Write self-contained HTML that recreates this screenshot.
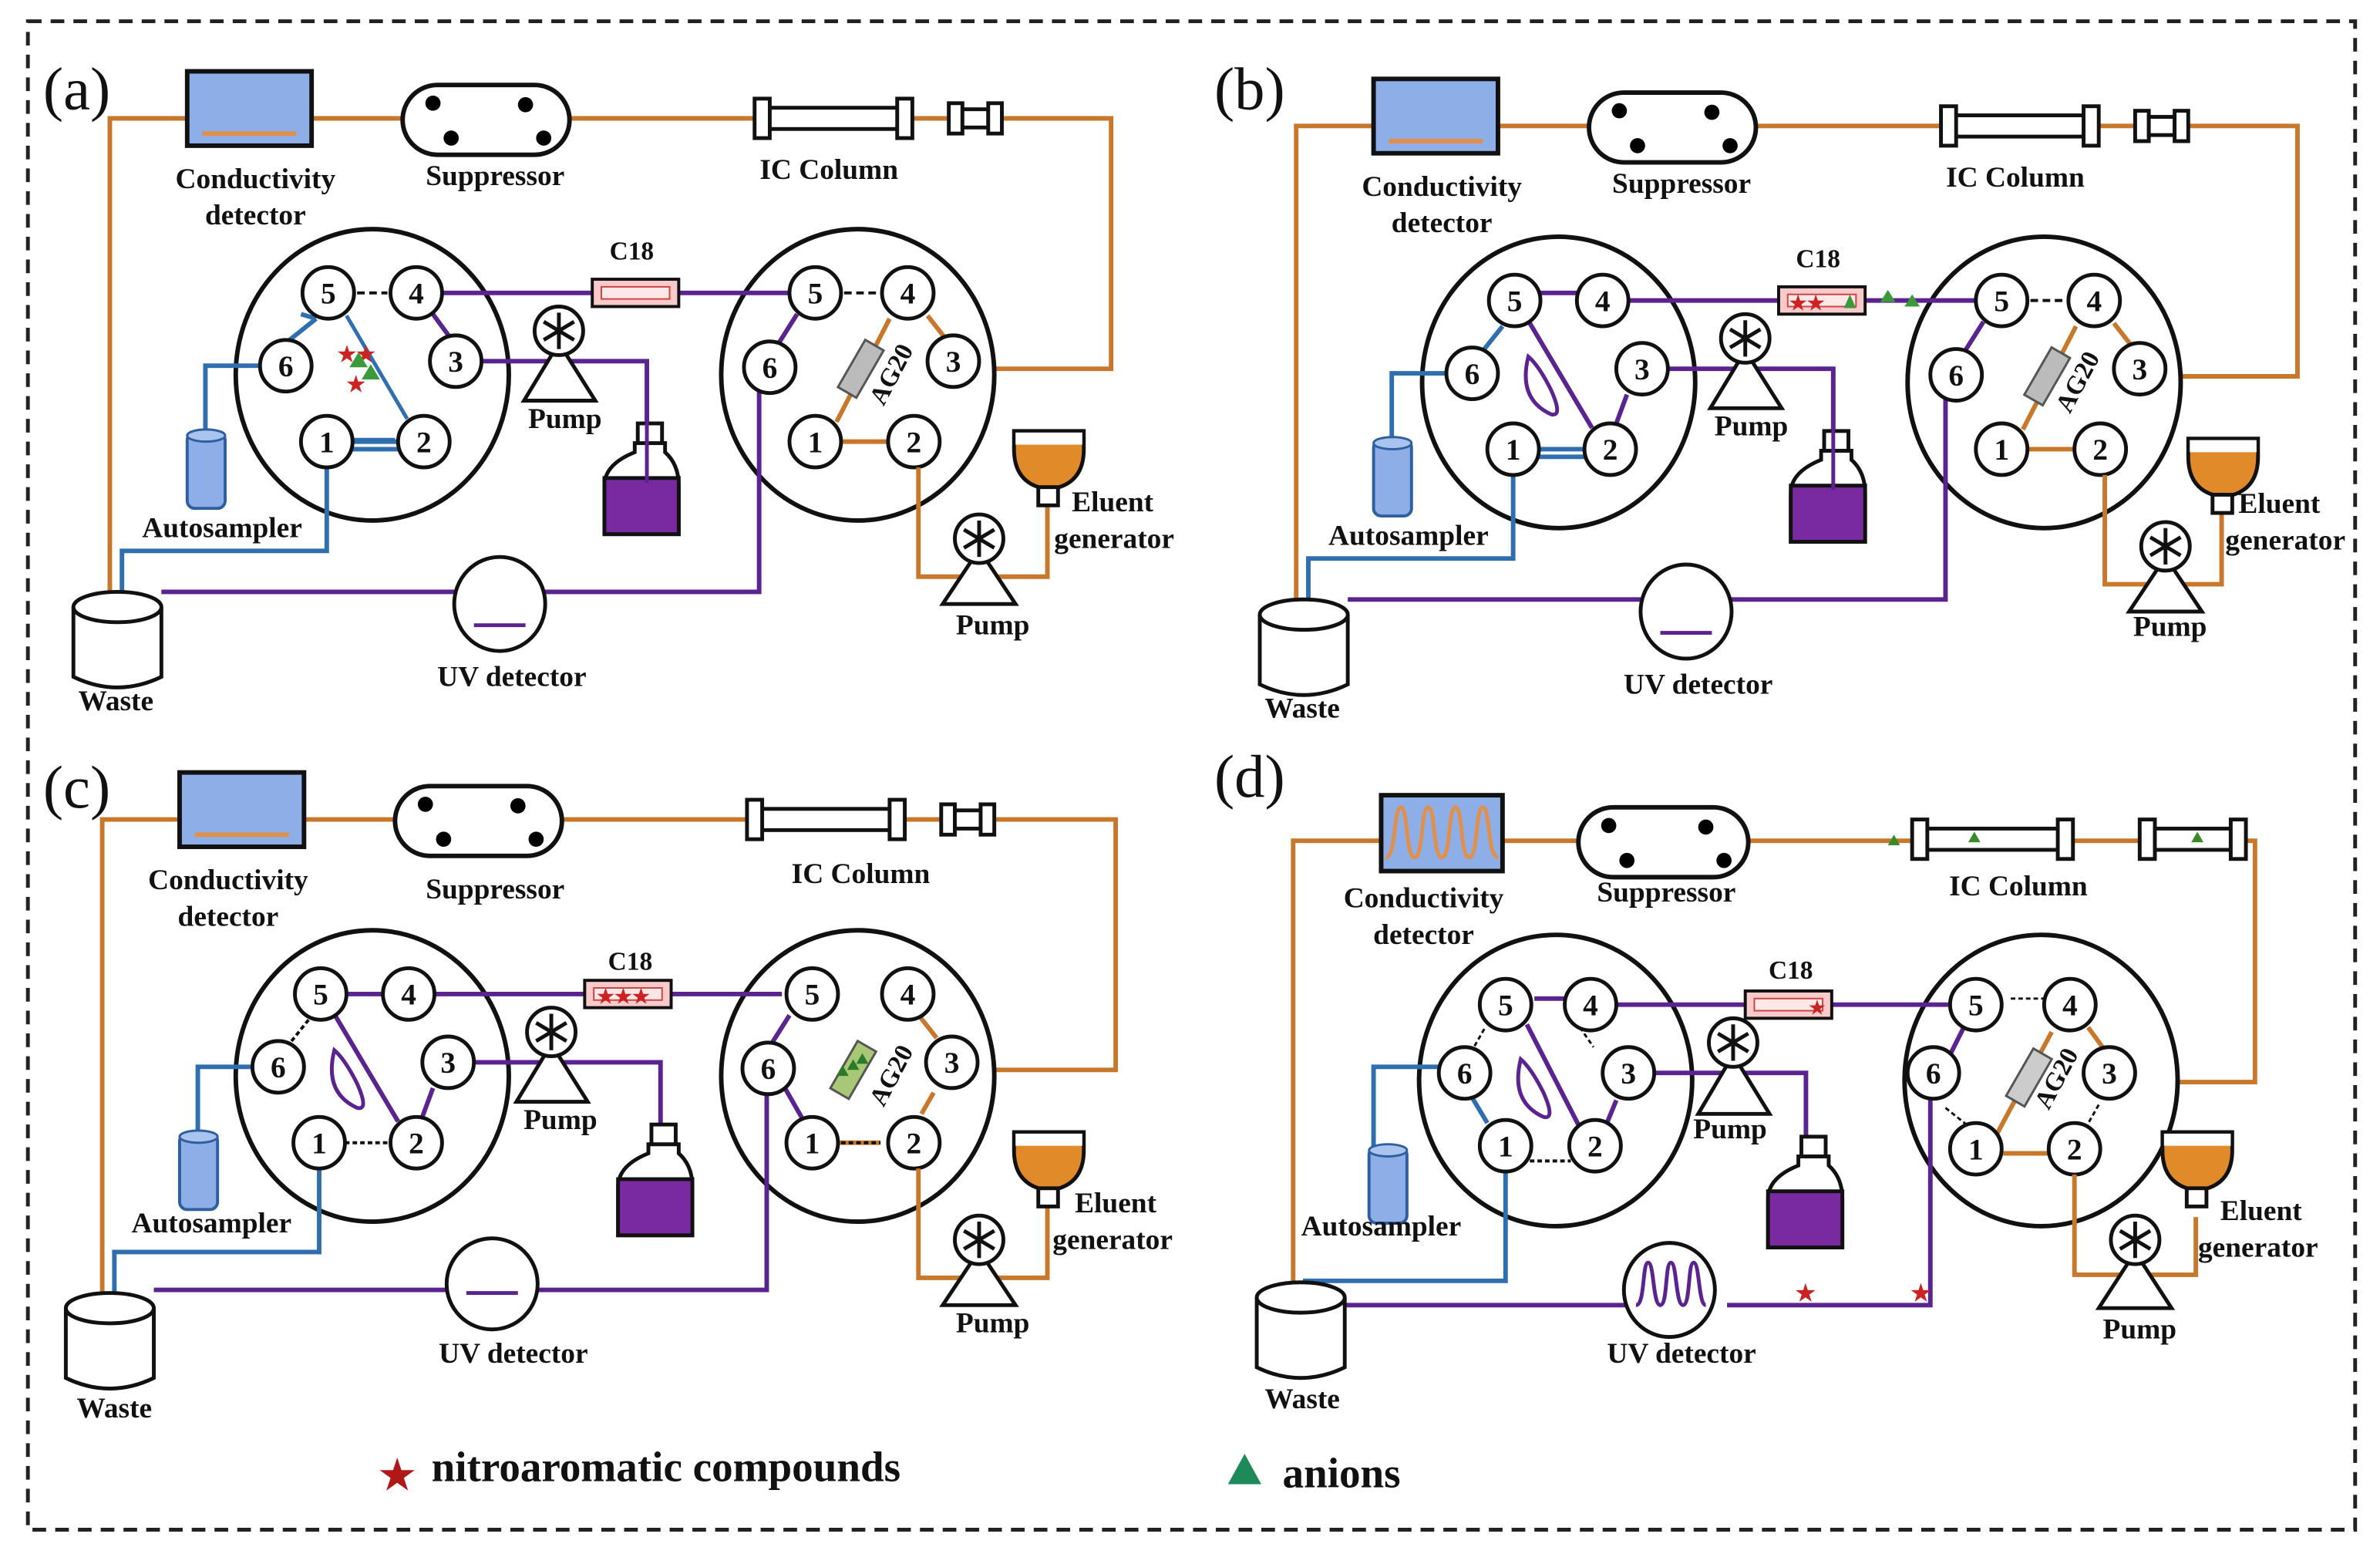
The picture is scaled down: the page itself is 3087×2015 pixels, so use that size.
<!DOCTYPE html>
<html><head><meta charset="utf-8"><style>
html,body{margin:0;padding:0;background:#fff}
svg{display:block}
text{font-family:"Liberation Serif",serif;font-weight:bold;fill:#111}
.o{stroke:#c8782a;stroke-width:3;fill:none}
.pu{stroke:#5a2390;stroke-width:3;fill:none}
.bl{stroke:#2f6fb0;stroke-width:3;fill:none}
.k{stroke:#111;stroke-width:3;fill:#fff}
.pt{stroke:#111;stroke-width:2.5;fill:#fff}
.lbl{font-size:19px;text-anchor:middle}
.num{font-size:20px;text-anchor:middle}
</style></head><body>
<svg width="3087" height="2015" viewBox="0 0 1568 1024" xmlns="http://www.w3.org/2000/svg">
<rect x="18" y="14" width="1534" height="994" fill="none" stroke="#222" stroke-width="2.5" stroke-dasharray="9 6"/>

<!-- ============ PANEL A ============ -->
<g transform="translate(0,0)">
<text x="28" y="72" style="font-size:40px;font-weight:normal">(a)</text>
<path class="o" d="M72 432 V78 H123 M205 78 H265 M375 78 H497 M601 78 H625 M660 78 H732 V243 H640"/>
<rect x="123" y="47" width="82" height="49" fill="#8eaee8" stroke="#111" stroke-width="3"/>
<line x1="133" y1="88" x2="195" y2="88" stroke="#e0904a" stroke-width="3"/>
<text class="lbl" x="168" y="124">Conductivity</text><text class="lbl" x="168" y="148">detector</text>
<rect x="265" y="56" width="110" height="46" rx="23" class="k"/>
<circle cx="285" cy="68" r="5"/><circle cx="297" cy="91" r="5"/><circle cx="346" cy="69" r="5"/><circle cx="358" cy="91" r="5"/>
<text class="lbl" x="326" y="122">Suppressor</text>
<rect x="503" y="71" width="92" height="14" class="pt"/><rect x="497" y="65" width="10" height="26" class="pt"/><rect x="591" y="65" width="10" height="26" class="pt"/>
<rect x="625" y="68" width="9" height="20" class="pt"/><rect x="634" y="72" width="17" height="12" class="pt"/><rect x="651" y="68" width="9" height="20" class="pt"/>
<text class="lbl" x="546" y="118">IC Column</text>
<ellipse cx="245" cy="247" rx="90" ry="96" class="k"/>
<ellipse cx="565" cy="247" rx="90" ry="96" class="k"/>
<path class="pu" d="M291 193 H390 M447 193 H520 M317 238 H426 V310 M106 390 H300 M358 390 H500 V258"/>
<rect x="390" y="184" width="57" height="18" fill="#f8caca" stroke="#111" stroke-width="2"/><rect x="396" y="189" width="45" height="8" fill="#fde8e8" stroke="#c44" stroke-width="1"/>
<text class="lbl" x="416" y="171" style="font-size:17px">C18</text>
<path class="bl" d="M171 241 H135 V290 M135 241 V300 M215 308 V363 H80 V432 M198 207 L208 210 M260 290 H198"/>
<path class="bl" d="M208 210 L188 226 M232 291 H262 M232 296 H262"/>
<line x1="228" y1="208" x2="268" y2="276" stroke="#2f6fb0" stroke-width="2.5"/>
<path class="pu" d="M285 207 L296 222"/>
<g fill="#c22"><text x="222" y="238" style="font-size:14px;fill:#c22">★★</text><text x="228" y="258" style="font-size:14px;fill:#c22">★</text></g>
<path d="M236 232 l6 10 h-12z M244 240 l6 10 h-12z" fill="#3a9a3a"/>
<path class="pu" d="M525 207 L513 226"/>
<path class="o" d="M554 291 H585 M551 278 L586 210 M611 208 L622 222"/>
<rect x="560" y="225" width="14" height="36" fill="#bbb" stroke="#555" stroke-width="1.5" transform="rotate(30 567 243)"/>
<text x="582" y="268" transform="rotate(-62 582 268)" style="font-size:17px">AG20</text>
<g>
<circle cx="216" cy="193" r="17" class="pt"/><text class="num" x="216" y="200">5</text>
<circle cx="274" cy="193" r="17" class="pt"/><text class="num" x="274" y="200">4</text>
<circle cx="300" cy="238" r="17" class="pt"/><text class="num" x="300" y="245">3</text>
<circle cx="279" cy="291" r="17" class="pt"/><text class="num" x="279" y="298">2</text>
<circle cx="215" cy="291" r="17" class="pt"/><text class="num" x="215" y="298">1</text>
<circle cx="188" cy="241" r="17" class="pt"/><text class="num" x="188" y="248">6</text>
<line x1="235" y1="193" x2="255" y2="193" stroke="#111" stroke-width="2" stroke-dasharray="5 3"/>
<circle cx="537" cy="193" r="17" class="pt"/><text class="num" x="537" y="200">5</text>
<circle cx="598" cy="193" r="17" class="pt"/><text class="num" x="598" y="200">4</text>
<circle cx="628" cy="238" r="17" class="pt"/><text class="num" x="628" y="245">3</text>
<circle cx="602" cy="291" r="17" class="pt"/><text class="num" x="602" y="298">2</text>
<circle cx="537" cy="291" r="17" class="pt"/><text class="num" x="537" y="298">1</text>
<circle cx="507" cy="242" r="17" class="pt"/><text class="num" x="507" y="249">6</text>
<line x1="556" y1="193" x2="579" y2="193" stroke="#111" stroke-width="2" stroke-dasharray="5 3"/>
</g>
<path d="M368 226 L345 264 H392 Z" class="pt"/><circle cx="368" cy="218" r="16" class="pt"/>
<path d="M368 206 V230 M358 212 L378 224 M358 224 L378 212" stroke="#111" stroke-width="2.5"/>
<text class="lbl" x="372" y="282">Pump</text>
<path d="M398 352 V320 Q398 306 418 298 V292 H438 V298 Q447 306 447 320 V352 Z" class="pt"/>
<rect x="398" y="315" width="49" height="37" fill="#7a2aa0" stroke="#111" stroke-width="2.5"/>
<rect x="420" y="279" width="16" height="13" class="pt"/>
<line x1="426" y1="238" x2="426" y2="318" stroke="#5a2390" stroke-width="2.5"/>
<rect x="123" y="285" width="25" height="50" rx="5" fill="#8eaee8" stroke="#2f5f9f" stroke-width="2"/><ellipse cx="135.5" cy="287" rx="12.5" ry="4" fill="#aac4f0" stroke="#2f5f9f" stroke-width="1.5"/>
<text class="lbl" x="146" y="354">Autosampler</text>
<path d="M48 400 V446 Q77 460 106 446 V400" class="pt"/><ellipse cx="77" cy="400" rx="29" ry="10" class="pt" fill="none"/>
<text class="lbl" x="76" y="468">Waste</text>
<ellipse cx="329" cy="398" rx="30" ry="31" class="pt"/>
<line x1="312" y1="412" x2="346" y2="412" stroke="#5a2390" stroke-width="2.5"/>
<text class="lbl" x="337" y="452">UV detector</text>
<path class="o" d="M605 308 V380 H690 V332"/>
<path d="M668 284 H714 V296 Q714 318 694 322 H688 Q668 318 668 296 Z" fill="#e08a2a" stroke="#111" stroke-width="2.5"/>
<rect x="669" y="285" width="44" height="8" fill="#fff"/>
<rect x="684" y="321" width="13" height="12" class="pt"/>
<text class="lbl" x="733" y="337">Eluent</text><text class="lbl" x="734" y="361">generator</text>
<path d="M645 362 L621 398 H669 Z" class="pt"/><circle cx="645" cy="355" r="16" class="pt"/>
<path d="M645 343 V367 M635 349 L655 361 M635 361 L655 349" stroke="#111" stroke-width="2.5"/>
<text class="lbl" x="654" y="418">Pump</text>
</g>

<!-- ============ PANEL B ============ -->
<g transform="translate(782,5)">
<text x="18" y="67" style="font-size:40px;font-weight:normal">(b)</text>
<path class="o" d="M72 432 V78 H123 M205 78 H265 M375 78 H497 M601 78 H625 M660 78 H732 V243 H640"/>
<rect x="123" y="47" width="82" height="49" fill="#8eaee8" stroke="#111" stroke-width="3"/>
<line x1="133" y1="88" x2="195" y2="88" stroke="#e0904a" stroke-width="3"/>
<text class="lbl" x="168" y="124">Conductivity</text><text class="lbl" x="168" y="148">detector</text>
<rect x="265" y="56" width="110" height="46" rx="23" class="k"/>
<circle cx="285" cy="68" r="5"/><circle cx="297" cy="91" r="5"/><circle cx="346" cy="69" r="5"/><circle cx="358" cy="91" r="5"/>
<text class="lbl" x="326" y="122">Suppressor</text>
<rect x="503" y="71" width="92" height="14" class="pt"/><rect x="497" y="65" width="10" height="26" class="pt"/><rect x="591" y="65" width="10" height="26" class="pt"/>
<rect x="625" y="68" width="9" height="20" class="pt"/><rect x="634" y="72" width="17" height="12" class="pt"/><rect x="651" y="68" width="9" height="20" class="pt"/>
<text class="lbl" x="546" y="118">IC Column</text>
<ellipse cx="245" cy="247" rx="90" ry="96" class="k"/>
<ellipse cx="565" cy="247" rx="90" ry="96" class="k"/>
<path class="pu" d="M291 193 H390 M447 193 H520 M317 238 H426 V310 M106 390 H300 M358 390 H500 V258 M233 188 H257"/>
<rect x="390" y="184" width="57" height="18" fill="#f8caca" stroke="#111" stroke-width="2"/><rect x="396" y="189" width="45" height="8" fill="#fde8e8" stroke="#c44" stroke-width="1"/>
<text x="397" y="199" style="font-size:13px;fill:#c22">★★</text><path d="M437 189 l4 9 h-8z" fill="#3a9a3a"/>
<path d="M462 186 l5 8 h-10z M478 189 l5 8 h-10z" fill="#3a9a3a"/>
<text class="lbl" x="416" y="171" style="font-size:17px">C18</text>
<path class="bl" d="M171 241 H135 V290 M135 241 V300 M215 308 V363 H80 V432 M208 210 L196 225 M232 291 H262 M232 296 H262"/>
<path class="pu" d="M226 208 L267 277 M290 255 L283 274"/>
<path d="M225 230 Q218 258 240 268 Q248 270 240 252 Q232 236 225 230 Z" fill="none" stroke="#5a2390" stroke-width="2.5"/>
<path class="pu" d="M525 207 L513 226"/>
<path class="o" d="M554 291 H585 M551 278 L586 210 M611 208 L622 222"/>
<rect x="560" y="225" width="14" height="36" fill="#bbb" stroke="#555" stroke-width="1.5" transform="rotate(30 567 243)"/>
<text x="582" y="268" transform="rotate(-62 582 268)" style="font-size:17px">AG20</text>
<g>
<circle cx="216" cy="193" r="17" class="pt"/><text class="num" x="216" y="200">5</text>
<circle cx="274" cy="193" r="17" class="pt"/><text class="num" x="274" y="200">4</text>
<circle cx="300" cy="238" r="17" class="pt"/><text class="num" x="300" y="245">3</text>
<circle cx="279" cy="291" r="17" class="pt"/><text class="num" x="279" y="298">2</text>
<circle cx="215" cy="291" r="17" class="pt"/><text class="num" x="215" y="298">1</text>
<circle cx="188" cy="241" r="17" class="pt"/><text class="num" x="188" y="248">6</text>
<circle cx="537" cy="193" r="17" class="pt"/><text class="num" x="537" y="200">5</text>
<circle cx="598" cy="193" r="17" class="pt"/><text class="num" x="598" y="200">4</text>
<circle cx="628" cy="238" r="17" class="pt"/><text class="num" x="628" y="245">3</text>
<circle cx="602" cy="291" r="17" class="pt"/><text class="num" x="602" y="298">2</text>
<circle cx="537" cy="291" r="17" class="pt"/><text class="num" x="537" y="298">1</text>
<circle cx="507" cy="242" r="17" class="pt"/><text class="num" x="507" y="249">6</text>
<line x1="556" y1="193" x2="579" y2="193" stroke="#111" stroke-width="2" stroke-dasharray="5 3"/>
</g>
<path d="M368 226 L345 264 H392 Z" class="pt"/><circle cx="368" cy="218" r="16" class="pt"/>
<path d="M368 206 V230 M358 212 L378 224 M358 224 L378 212" stroke="#111" stroke-width="2.5"/>
<text class="lbl" x="372" y="282">Pump</text>
<path d="M398 352 V320 Q398 306 418 298 V292 H438 V298 Q447 306 447 320 V352 Z" class="pt"/>
<rect x="398" y="315" width="49" height="37" fill="#7a2aa0" stroke="#111" stroke-width="2.5"/>
<rect x="420" y="279" width="16" height="13" class="pt"/>
<line x1="426" y1="238" x2="426" y2="318" stroke="#5a2390" stroke-width="2.5"/>
<rect x="123" y="285" width="25" height="50" rx="5" fill="#8eaee8" stroke="#2f5f9f" stroke-width="2"/><ellipse cx="135.5" cy="287" rx="12.5" ry="4" fill="#aac4f0" stroke="#2f5f9f" stroke-width="1.5"/>
<text class="lbl" x="146" y="354">Autosampler</text>
<path d="M48 400 V446 Q77 460 106 446 V400" class="pt"/><ellipse cx="77" cy="400" rx="29" ry="10" class="pt" fill="none"/>
<text class="lbl" x="76" y="468">Waste</text>
<ellipse cx="329" cy="398" rx="30" ry="31" class="pt"/>
<line x1="312" y1="412" x2="346" y2="412" stroke="#5a2390" stroke-width="2.5"/>
<text class="lbl" x="337" y="452">UV detector</text>
<path class="o" d="M605 308 V380 H682 V332"/>
<path d="M660 284 H706 V296 Q706 318 686 322 H680 Q660 318 660 296 Z" fill="#e08a2a" stroke="#111" stroke-width="2.5"/>
<rect x="661" y="285" width="44" height="8" fill="#fff"/>
<rect x="676" y="321" width="13" height="12" class="pt"/>
<text class="lbl" x="720" y="333">Eluent</text><text class="lbl" x="724" y="357">generator</text>
<path d="M645 362 L621 398 H669 Z" class="pt"/><circle cx="645" cy="355" r="16" class="pt"/>
<path d="M645 343 V367 M635 349 L655 361 M635 361 L655 349" stroke="#111" stroke-width="2.5"/>
<text class="lbl" x="648" y="414">Pump</text>
</g>

<!-- ============ PANEL C ============ -->
<g transform="translate(-5,462)">
<text x="33" y="70" style="font-size:40px;font-weight:normal">(c)</text>
<path class="o" d="M72 432 V78 H123 M205 78 H265 M375 78 H497 M601 78 H625 M660 78 H740 V243 H640"/>
<rect x="123" y="47" width="82" height="49" fill="#8eaee8" stroke="#111" stroke-width="3"/>
<line x1="133" y1="88" x2="195" y2="88" stroke="#e0904a" stroke-width="3"/>
<text class="lbl" x="155" y="124">Conductivity</text><text class="lbl" x="155" y="148">detector</text>
<rect x="265" y="56" width="110" height="46" rx="23" class="k"/>
<circle cx="285" cy="68" r="5"/><circle cx="297" cy="91" r="5"/><circle cx="346" cy="69" r="5"/><circle cx="358" cy="91" r="5"/>
<text class="lbl" x="331" y="130">Suppressor</text>
<rect x="503" y="71" width="92" height="14" class="pt"/><rect x="497" y="65" width="10" height="26" class="pt"/><rect x="591" y="65" width="10" height="26" class="pt"/>
<rect x="625" y="68" width="9" height="20" class="pt"/><rect x="634" y="72" width="17" height="12" class="pt"/><rect x="651" y="68" width="9" height="20" class="pt"/>
<text class="lbl" x="572" y="120">IC Column</text>
<ellipse cx="250" cy="247" rx="90" ry="96" class="k" stroke="#777"/>
<ellipse cx="570" cy="247" rx="90" ry="96" class="k"/>
<path class="pu" d="M291 193 H390 M447 193 H520 M317 238 H440 V310 M106 388 H300 M358 388 H510 V258 M233 193 H257"/>
<rect x="390" y="184" width="57" height="18" fill="#f8caca" stroke="#111" stroke-width="2"/><rect x="396" y="189" width="45" height="8" fill="#fde8e8" stroke="#c44" stroke-width="1"/>
<text x="398" y="199" style="font-size:13px;fill:#c22">★★★</text>
<text class="lbl" x="420" y="177" style="font-size:17px">C18</text>
<path class="bl" d="M171 241 H135 V290 M135 241 V300 M215 308 V363 H80 V432"/>
<path d="M232 291 H262" stroke="#111" stroke-width="2" stroke-dasharray="3 2"/>
<path d="M208 210 L196 225" stroke="#111" stroke-width="2" stroke-dasharray="3 2"/>
<path class="pu" d="M226 208 L267 277 M290 255 L283 274"/>
<path d="M225 230 Q218 258 240 268 Q248 270 240 252 Q232 236 225 230 Z" fill="none" stroke="#5a2390" stroke-width="2.5"/>
<path class="pu" d="M525 207 L513 226 M522 255 L534 276"/>
<path class="o" d="M554 291 H585 M611 208 L622 222 M612 272 L620 258"/>
<path d="M554 291 H585" stroke="#111" stroke-width="2" stroke-dasharray="3 2"/>
<rect x="560" y="225" width="14" height="36" fill="#a8c878" stroke="#555" stroke-width="1.5" transform="rotate(30 567 243)"/>
<path d="M560 240 l4 7 h-8z M567 236 l4 7 h-8z M573 232 l4 7 h-8z" fill="#2a7a2a"/>
<text x="587" y="268" transform="rotate(-62 587 268)" style="font-size:17px">AG20</text>
<g>
<circle cx="216" cy="193" r="17" class="pt"/><text class="num" x="216" y="200">5</text>
<circle cx="274" cy="193" r="17" class="pt"/><text class="num" x="274" y="200">4</text>
<circle cx="300" cy="238" r="17" class="pt"/><text class="num" x="300" y="245">3</text>
<circle cx="279" cy="291" r="17" class="pt"/><text class="num" x="279" y="298">2</text>
<circle cx="215" cy="291" r="17" class="pt"/><text class="num" x="215" y="298">1</text>
<circle cx="188" cy="241" r="17" class="pt"/><text class="num" x="188" y="248">6</text>
<circle cx="540" cy="193" r="17" class="pt"/><text class="num" x="540" y="200">5</text>
<circle cx="603" cy="193" r="17" class="pt"/><text class="num" x="603" y="200">4</text>
<circle cx="632" cy="238" r="17" class="pt"/><text class="num" x="632" y="245">3</text>
<circle cx="607" cy="291" r="17" class="pt"/><text class="num" x="607" y="298">2</text>
<circle cx="540" cy="291" r="17" class="pt"/><text class="num" x="540" y="298">1</text>
<circle cx="511" cy="242" r="17" class="pt"/><text class="num" x="511" y="249">6</text>
</g>
<path d="M368 226 L345 264 H392 Z" class="pt"/><circle cx="368" cy="218" r="16" class="pt"/>
<path d="M368 206 V230 M358 212 L378 224 M358 224 L378 212" stroke="#111" stroke-width="2.5"/>
<text class="lbl" x="374" y="282">Pump</text>
<path d="M412 352 V320 Q412 306 432 298 V292 H452 V298 Q461 306 461 320 V352 Z" class="pt"/>
<rect x="412" y="315" width="49" height="37" fill="#7a2aa0" stroke="#111" stroke-width="2.5"/>
<rect x="434" y="279" width="16" height="13" class="pt"/>
<rect x="123" y="285" width="25" height="50" rx="5" fill="#8eaee8" stroke="#2f5f9f" stroke-width="2"/><ellipse cx="135.5" cy="287" rx="12.5" ry="4" fill="#aac4f0" stroke="#2f5f9f" stroke-width="1.5"/>
<text class="lbl" x="144" y="350">Autosampler</text>
<path d="M48 400 V446 Q77 460 106 446 V400" class="pt"/><ellipse cx="77" cy="400" rx="29" ry="10" class="pt" fill="none"/>
<text class="lbl" x="80" y="472">Waste</text>
<ellipse cx="329" cy="384" rx="30" ry="30" class="pt"/>
<line x1="312" y1="390" x2="346" y2="390" stroke="#5a2390" stroke-width="2.5"/>
<text class="lbl" x="343" y="436">UV detector</text>
<path class="o" d="M610 308 V380 H695 V332"/>
<path d="M673 284 H719 V296 Q719 318 699 322 H693 Q673 318 673 296 Z" fill="#e08a2a" stroke="#111" stroke-width="2.5"/>
<rect x="674" y="285" width="44" height="8" fill="#fff"/>
<rect x="689" y="321" width="13" height="12" class="pt"/>
<text class="lbl" x="740" y="337">Eluent</text><text class="lbl" x="738" y="361">generator</text>
<path d="M650 362 L626 398 H674 Z" class="pt"/><circle cx="650" cy="355" r="16" class="pt"/>
<path d="M650 343 V367 M640 349 L660 361 M640 361 L660 349" stroke="#111" stroke-width="2.5"/>
<text class="lbl" x="659" y="416">Pump</text>
</g>

<!-- ============ PANEL D ============ -->
<g transform="translate(780,470)">
<text x="20" y="55" style="font-size:40px;font-weight:normal">(d)</text>
<path class="o" d="M72 432 V84 H130 M210 84 H260 M372 84 H480 M586 84 H630 M700 84 H706 V243 H625"/>
<rect x="130" y="54" width="80" height="50" fill="#8eaee8" stroke="#111" stroke-width="3"/>
<path d="M133 95 C140 95 138 62 143 62 C148 62 146 95 152 95 C158 95 156 62 161 62 C166 62 164 95 170 95 C176 95 174 62 179 62 C184 62 182 95 188 95 C194 95 192 62 197 62 C202 62 200 95 207 95" fill="none" stroke="#e0904a" stroke-width="2.5"/>
<text class="lbl" x="158" y="128">Conductivity</text><text class="lbl" x="158" y="152">detector</text>
<rect x="260" y="62" width="112" height="46" rx="23" class="k"/>
<circle cx="280" cy="74" r="5"/><circle cx="292" cy="97" r="5"/><circle cx="344" cy="75" r="5"/><circle cx="356" cy="97" r="5"/>
<text class="lbl" x="318" y="124">Suppressor</text>
<rect x="486" y="76" width="94" height="14" class="pt"/><rect x="480" y="70" width="10" height="26" class="pt"/><rect x="576" y="70" width="10" height="26" class="pt"/>
<rect x="630" y="70" width="10" height="26" class="pt"/><rect x="640" y="76" width="50" height="14" class="pt"/><rect x="690" y="70" width="10" height="26" class="pt"/>
<path d="M468 80 l4 7 h-8z M521 78 l4 7 h-8z M668 78 l4 7 h-8z" fill="#3a8a2a"/>
<text class="lbl" x="550" y="120">IC Column</text>
<ellipse cx="245" cy="242" rx="90" ry="96" class="k"/>
<ellipse cx="565" cy="242" rx="90" ry="96" class="k"/>
<path class="pu" d="M231 188 H258 M285 192 H370 M427 192 H505 M306 237 H410 V300 M106 390 H300 M358 390 H492 V255 M285 255 L278 272 M190 225 L184 230"/>
<rect x="370" y="183" width="57" height="18" fill="#f8caca" stroke="#111" stroke-width="2"/><rect x="376" y="188" width="45" height="8" fill="#fde8e8" stroke="#c44" stroke-width="1"/>
<text x="412" y="198" style="font-size:12px;fill:#c22">★</text>
<text class="lbl" x="400" y="175" style="font-size:17px">C18</text>
<path class="bl" d="M170 233 H125 V285 M125 233 V300 M212 303 V374 H80 V432 M188 250 L200 270"/>
<path d="M228 295 H255" stroke="#111" stroke-width="2" stroke-dasharray="3 2"/>
<path d="M198 208 L190 222 M261 207 L270 220" stroke="#111" stroke-width="1.5" stroke-dasharray="3 2"/>
<path class="pu" d="M226 205 L262 275"/>
<path d="M222 228 Q215 256 237 266 Q245 268 237 250 Q229 234 222 228 Z" fill="none" stroke="#5a2390" stroke-width="2.5"/>
<path class="pu" d="M515 205 L505 225"/>
<path class="o" d="M540 290 H572 M536 277 L572 210 M596 207 L607 222"/>
<path d="M545 188 H572 M502 260 L522 276 M603 258 L595 272" stroke="#111" stroke-width="1.5" stroke-dasharray="3 2"/>
<rect x="550" y="222" width="14" height="36" fill="#ccc" stroke="#555" stroke-width="1.5" transform="rotate(30 557 240)"/>
<text x="570" y="262" transform="rotate(-62 570 262)" style="font-size:17px">AG20</text>
<g>
<circle cx="212" cy="192" r="17" class="pt" stroke="#555"/><text class="num" x="212" y="199">5</text>
<circle cx="268" cy="192" r="17" class="pt" stroke="#555"/><text class="num" x="268" y="199">4</text>
<circle cx="293" cy="237" r="17" class="pt" stroke="#555"/><text class="num" x="293" y="244">3</text>
<circle cx="271" cy="285" r="17" class="pt" stroke="#555"/><text class="num" x="271" y="292">2</text>
<circle cx="212" cy="285" r="17" class="pt" stroke="#555"/><text class="num" x="212" y="292">1</text>
<circle cx="185" cy="237" r="17" class="pt" stroke="#555"/><text class="num" x="185" y="244">6</text>
<circle cx="522" cy="192" r="17" class="pt" stroke="#555"/><text class="num" x="522" y="199">5</text>
<circle cx="584" cy="192" r="17" class="pt" stroke="#555"/><text class="num" x="584" y="199">4</text>
<circle cx="610" cy="237" r="17" class="pt" stroke="#555"/><text class="num" x="610" y="244">3</text>
<circle cx="587" cy="287" r="17" class="pt" stroke="#555"/><text class="num" x="587" y="294">2</text>
<circle cx="522" cy="287" r="17" class="pt" stroke="#555"/><text class="num" x="522" y="294">1</text>
<circle cx="494" cy="237" r="17" class="pt" stroke="#555"/><text class="num" x="494" y="244">6</text>
</g>
<path d="M362 225 L339 264 H386 Z" class="pt"/><circle cx="362" cy="217" r="16" class="pt"/>
<path d="M362 205 V229 M352 211 L372 223 M352 223 L372 211" stroke="#111" stroke-width="2.5"/>
<text class="lbl" x="360" y="280">Pump</text>
<path d="M385 352 V320 Q385 306 405 298 V292 H425 V298 Q434 306 434 320 V352 Z" class="pt"/>
<rect x="385" y="315" width="49" height="37" fill="#7a2aa0" stroke="#111" stroke-width="2.5"/>
<rect x="407" y="279" width="16" height="13" class="pt"/>
<rect x="122" y="286" width="25" height="50" rx="5" fill="#8eaee8" stroke="#2f5f9f" stroke-width="2"/><ellipse cx="134.5" cy="288" rx="12.5" ry="4" fill="#aac4f0" stroke="#2f5f9f" stroke-width="1.5"/>
<text class="lbl" x="130" y="344">Autosampler</text>
<path d="M48 385 V431 Q77 445 106 431 V385" class="pt"/><ellipse cx="77" cy="385" rx="29" ry="10" class="pt" fill="none"/>
<text class="lbl" x="78" y="458">Waste</text>
<ellipse cx="320" cy="380" rx="30" ry="31" class="pt"/>
<path d="M298 390 C304 390 302 362 306 362 C310 362 309 390 314 390 C319 390 317 362 321 362 C325 362 324 390 329 390 C334 390 332 362 336 362 C340 362 339 390 344 390" fill="none" stroke="#5a2390" stroke-width="2.5"/>
<text x="403" y="387" style="font-size:15px;fill:#c22">★</text><text x="479" y="387" style="font-size:15px;fill:#c22">★</text>
<text class="lbl" x="328" y="428">UV detector</text>
<path class="o" d="M587 304 V370 H667 V332"/>
<path d="M645 276 H691 V288 Q691 310 671 314 H665 Q645 310 645 288 Z" fill="#e08a2a" stroke="#111" stroke-width="2.5"/>
<rect x="646" y="277" width="44" height="8" fill="#fff"/>
<rect x="661" y="313" width="13" height="12" class="pt"/>
<text class="lbl" x="710" y="334">Eluent</text><text class="lbl" x="708" y="358">generator</text>
<path d="M627 355 L603 392 H651 Z" class="pt"/><circle cx="627" cy="347" r="16" class="pt"/>
<path d="M627 335 V359 M617 341 L637 353 M617 353 L637 341" stroke="#111" stroke-width="2.5"/>
<text class="lbl" x="630" y="412">Pump</text>
</g>

<!-- legend -->
<text x="248" y="982" style="font-size:30px;fill:#b01818;font-weight:normal">★</text>
<text x="284" y="976" style="font-size:28px">nitroaromatic compounds</text>
<path d="M820 958 l11 20 h-22z" fill="#1e8a5a"/>
<text x="845" y="980" style="font-size:28px">anions</text>
</svg>
</body></html>
